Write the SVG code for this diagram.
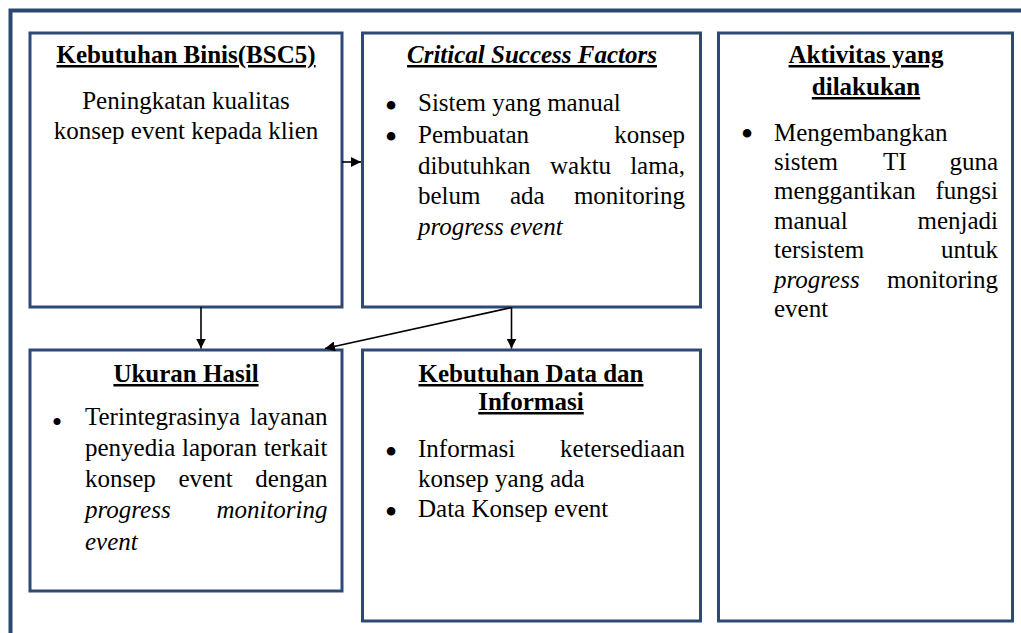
<svg xmlns="http://www.w3.org/2000/svg" width="1021" height="633" viewBox="0 0 1021 633">
  <style>
    .frame { fill: none; stroke: #2c4870; stroke-width: 4; }
    .box { fill: #ffffff; stroke: #2e4a72; stroke-width: 3; }
    text { font-family: "Liberation Serif", "Times New Roman", serif; font-size: 25px; fill: #000000; }
    .title { font-weight: bold; text-anchor: middle; text-decoration: underline; }
    .it { font-style: italic; }
    .c { text-anchor: middle; }
    .r { text-anchor: end; }
    .dot { font-size: 36px; text-anchor: middle; }
    .link { fill: none; stroke: #000000; stroke-width: 1.6; }
  </style>
  <defs>
    <marker id="arrow" viewBox="0 0 10 10" refX="10" refY="5" markerWidth="10" markerHeight="10" markerUnits="userSpaceOnUse" orient="auto">
      <path d="M0,0 L10,5 L0,10 Z" fill="#000000"/>
    </marker>
  </defs>

  <rect width="1021" height="633" fill="#ffffff"/>

  <!-- outer frame, running off the right and bottom edges -->
  <rect class="frame" x="10.5" y="10.5" width="1030" height="640"/>

  <!-- Kebutuhan Binis -->
  <g id="kebutuhan-binis">
    <rect class="box" x="30" y="33" width="312" height="274"/>
    <text class="title" x="186" y="63">Kebutuhan Binis(BSC5)</text>
    <text class="c" x="186" y="109">Peningkatan kualitas</text>
    <text class="c" x="186" y="139">konsep event kepada klien</text>
  </g>

  <!-- Critical Success Factors -->
  <g id="critical-success-factors">
    <rect class="box" x="362.5" y="33" width="338" height="274"/>
    <text class="title it" x="532" y="63">Critical Success Factors</text>
    <text class="dot" x="391" y="118">•</text>
    <text x="418" y="111">Sistem yang manual</text>
    <text class="dot" x="391" y="149">•</text>
    <text x="418" y="143">Pembuatan</text>
    <text class="r" x="685" y="143">konsep</text>
    <text x="418" y="174">dibutuhkan</text>
    <text x="550" y="174">waktu</text>
    <text class="r" x="685" y="174">lama,</text>
    <text x="418" y="204">belum</text>
    <text x="510" y="204">ada</text>
    <text class="r" x="685" y="204">monitoring</text>
    <text class="it" x="418" y="235">progress event</text>
  </g>

  <!-- Aktivitas yang dilakukan -->
  <g id="aktivitas">
    <rect class="box" x="718.5" y="33" width="294" height="588"/>
    <text class="title" x="866" y="63">Aktivitas yang</text>
    <text class="title" x="866" y="95">dilakukan</text>
    <text class="dot" x="747" y="146">•</text>
    <text x="774" y="141">Mengembangkan</text>
    <text x="774" y="170">sistem</text>
    <text x="883" y="170">TI</text>
    <text class="r" x="998" y="170">guna</text>
    <text x="774" y="199">menggantikan</text>
    <text class="r" x="998" y="199">fungsi</text>
    <text x="774" y="229">manual</text>
    <text class="r" x="998" y="229">menjadi</text>
    <text x="774" y="258">tersistem</text>
    <text class="r" x="998" y="258">untuk</text>
    <text class="it" x="774" y="288">progress</text>
    <text class="r" x="998" y="288">monitoring</text>
    <text x="774" y="317">event</text>
  </g>

  <!-- Ukuran Hasil -->
  <g id="ukuran-hasil">
    <rect class="box" x="30" y="350" width="312" height="241"/>
    <text class="title" x="186" y="382">Ukuran Hasil</text>
    <text class="dot" x="57" y="432" style="font-size:30px">•</text>
    <text x="85" y="425">Terintegrasinya</text>
    <text class="r" x="327.5" y="425">layanan</text>
    <text x="85" y="456">penyedia</text>
    <text x="182" y="456">laporan</text>
    <text class="r" x="327.5" y="456">terkait</text>
    <text x="85" y="487">konsep</text>
    <text x="178.5" y="487">event</text>
    <text class="r" x="327.5" y="487">dengan</text>
    <text class="it" x="85" y="518">progress</text>
    <text class="it r" x="327.5" y="518">monitoring</text>
    <text class="it" x="85" y="550">event</text>
  </g>

  <!-- Kebutuhan Data dan Informasi -->
  <g id="kebutuhan-data">
    <rect class="box" x="362.5" y="350" width="338" height="271"/>
    <text class="title" x="531" y="382">Kebutuhan Data dan</text>
    <text class="title" x="531" y="410">Informasi</text>
    <text class="dot" x="391" y="464">•</text>
    <text x="418" y="457">Informasi</text>
    <text class="r" x="685" y="457">ketersediaan</text>
    <text x="418" y="487">konsep yang ada</text>
    <text class="dot" x="391" y="524">•</text>
    <text x="418" y="517">Data Konsep event</text>
  </g>

  <!-- connectors -->
  <g id="connectors">
    <line class="link" x1="342" y1="162" x2="361" y2="162" marker-end="url(#arrow)"/>
    <line class="link" x1="201" y1="307" x2="201" y2="348.5" marker-end="url(#arrow)"/>
    <line class="link" x1="511.5" y1="307" x2="511.5" y2="348.5" marker-end="url(#arrow)"/>
    <line class="link" x1="511.5" y1="307.5" x2="325" y2="348.5" marker-end="url(#arrow)"/>
  </g>
</svg>
